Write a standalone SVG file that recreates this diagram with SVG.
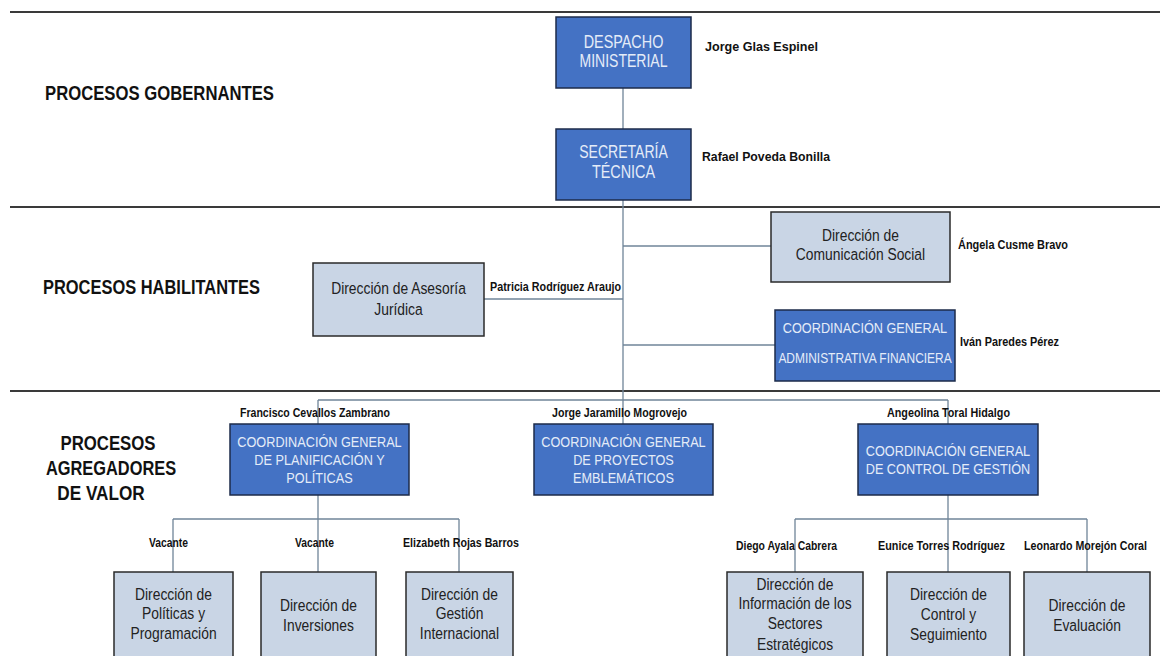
<svg xmlns="http://www.w3.org/2000/svg" width="1167" height="656" viewBox="0 0 1167 656">
<style>
.sec{stroke:#3a3a3a;stroke-width:2;fill:none}
.con{stroke:#6f8498;stroke-width:1.3;fill:none}
.blue{fill:#4472c4;stroke:#1d2b4a;stroke-width:1.5}
.gray{fill:#c9d5e5;stroke:#2a2a2a;stroke-width:1.5}
.bt{font-family:"Liberation Sans",Arial,sans-serif;fill:#e4ecf8;text-anchor:middle;font-size:15.5px}
.bt18{font-size:18px}
.gt{font-family:"Liberation Sans",Arial,sans-serif;fill:#222;text-anchor:middle;font-size:16.5px}
.nm{font-family:"Liberation Sans",Arial,sans-serif;fill:#111;font-weight:bold;font-size:12px}
.hd{font-family:"Liberation Sans",Arial,sans-serif;fill:#111;font-weight:bold;font-size:20px}
</style>
<rect width="1167" height="656" fill="#fff"/>
<g id="sections">
<line class="sec" x1="10" y1="12" x2="1160" y2="12"/>
<line class="sec" x1="10" y1="207" x2="1160" y2="207"/>
<line class="sec" x1="10" y1="391" x2="1160" y2="391"/>
<text class="hd" x="45" y="100" textLength="229" lengthAdjust="spacingAndGlyphs">PROCESOS GOBERNANTES</text>
<text class="hd" x="43" y="294" textLength="217" lengthAdjust="spacingAndGlyphs">PROCESOS HABILITANTES</text>
<text class="hd" text-anchor="middle" transform="translate(108 450) scale(0.84 1)">PROCESOS</text>
<text class="hd" text-anchor="middle" transform="translate(111 475) scale(0.82 1)">AGREGADORES</text>
<text class="hd" text-anchor="middle" transform="translate(101 500) scale(0.86 1)">DE VALOR</text>
</g>
<g id="connectors">
<line class="con" x1="623" y1="88" x2="623" y2="129"/>
<line class="con" x1="623" y1="200" x2="623" y2="400"/>
<line class="con" x1="623" y1="246" x2="771" y2="246"/>
<line class="con" x1="484" y1="299" x2="623" y2="299"/>
<line class="con" x1="623" y1="345" x2="775" y2="345"/>
<line class="con" x1="318" y1="400" x2="948" y2="400"/>
<line class="con" x1="318" y1="400" x2="318" y2="424"/>
<line class="con" x1="623" y1="400" x2="623" y2="424"/>
<line class="con" x1="948" y1="400" x2="948" y2="424"/>
<line class="con" x1="318" y1="495" x2="318" y2="572"/>
<line class="con" x1="173" y1="519" x2="459" y2="519"/>
<line class="con" x1="173" y1="519" x2="173" y2="572"/>
<line class="con" x1="459" y1="519" x2="459" y2="572"/>
<line class="con" x1="948" y1="495" x2="948" y2="572"/>
<line class="con" x1="795" y1="519" x2="1087" y2="519"/>
<line class="con" x1="795" y1="519" x2="795" y2="572"/>
<line class="con" x1="1087" y1="519" x2="1087" y2="572"/>
</g>
<g id="despacho">
<rect class="blue" x="556" y="17" width="135" height="71"/>
<text class="bt bt18" transform="translate(623.5 48) scale(0.8 1)">DESPACHO</text>
<text class="bt bt18" transform="translate(623.5 67) scale(0.78 1)">MINISTERIAL</text>
<text class="nm" x="705" y="51" textLength="113" lengthAdjust="spacingAndGlyphs">Jorge Glas Espinel</text>
</g>
<g id="secretaria">
<rect class="blue" x="556" y="129" width="135" height="71"/>
<text class="bt bt18" transform="translate(623.5 158) scale(0.78 1)">SECRETARÍA</text>
<text class="bt bt18" transform="translate(623.5 178) scale(0.8 1)">TÉCNICA</text>
<text class="nm" x="702" y="161" textLength="128" lengthAdjust="spacingAndGlyphs">Rafael Poveda Bonilla</text>
</g>
<g id="comunicacion">
<rect class="gray" x="771" y="212" width="179" height="70"/>
<text class="gt" transform="translate(860.5 241) scale(0.84 1)">Dirección de</text>
<text class="gt" transform="translate(860.5 260) scale(0.84 1)">Comunicación Social</text>
<text class="nm" x="958" y="249" textLength="110" lengthAdjust="spacingAndGlyphs">Ángela Cusme Bravo</text>
</g>
<g id="juridica">
<rect class="gray" x="313" y="263" width="171" height="73"/>
<text class="gt" transform="translate(398.5 294) scale(0.84 1)">Dirección de Asesoría</text>
<text class="gt" transform="translate(398.5 315) scale(0.84 1)">Jurídica</text>
<text class="nm" x="490" y="291" textLength="131" lengthAdjust="spacingAndGlyphs">Patricia Rodríguez Araujo</text>
</g>
<g id="administrativa">
<rect class="blue" x="775" y="310" width="180" height="71"/>
<text class="bt" transform="translate(865 333) scale(0.82 1)">COORDINACIÓN GENERAL</text>
<text class="bt" transform="translate(865 363) scale(0.77 1)">ADMINISTRATIVA FINANCIERA</text>
<text class="nm" x="960" y="346" textLength="99" lengthAdjust="spacingAndGlyphs">Iván Paredes Pérez</text>
</g>
<g id="planificacion">
<rect class="blue" x="230" y="424" width="179" height="71"/>
<text class="bt" transform="translate(319.5 447) scale(0.82 1)">COORDINACIÓN GENERAL</text>
<text class="bt" transform="translate(319.5 465) scale(0.82 1)">DE PLANIFICACIÓN Y</text>
<text class="bt" transform="translate(319.5 483) scale(0.82 1)">POLÍTICAS</text>
<text class="nm" x="240" y="417" textLength="150" lengthAdjust="spacingAndGlyphs">Francisco Cevallos Zambrano</text>
</g>
<g id="proyectos">
<rect class="blue" x="534" y="424" width="179" height="71"/>
<text class="bt" transform="translate(623.5 447) scale(0.82 1)">COORDINACIÓN GENERAL</text>
<text class="bt" transform="translate(623.5 465) scale(0.82 1)">DE PROYECTOS</text>
<text class="bt" transform="translate(623.5 483) scale(0.82 1)">EMBLEMÁTICOS</text>
<text class="nm" x="552" y="417" textLength="135" lengthAdjust="spacingAndGlyphs">Jorge Jaramillo Mogrovejo</text>
</g>
<g id="control">
<rect class="blue" x="858" y="424" width="180" height="71"/>
<text class="bt" transform="translate(948 456) scale(0.82 1)">COORDINACIÓN GENERAL</text>
<text class="bt" transform="translate(948 474) scale(0.82 1)">DE CONTROL DE GESTIÓN</text>
<text class="nm" x="887" y="417" textLength="123" lengthAdjust="spacingAndGlyphs">Angeolina Toral Hidalgo</text>
</g>
<g id="politicas">
<rect class="gray" x="114" y="572" width="119" height="95"/>
<text class="gt" transform="translate(173.5 600) scale(0.84 1)">Dirección de</text>
<text class="gt" transform="translate(173.5 619) scale(0.84 1)">Políticas y</text>
<text class="gt" transform="translate(173.5 639) scale(0.84 1)">Programación</text>
<text class="nm" x="149" y="547" textLength="39" lengthAdjust="spacingAndGlyphs">Vacante</text>
</g>
<g id="inversiones">
<rect class="gray" x="261" y="572" width="115" height="95"/>
<text class="gt" transform="translate(318.5 611) scale(0.84 1)">Dirección de</text>
<text class="gt" transform="translate(318.5 631) scale(0.84 1)">Inversiones</text>
<text class="nm" x="295" y="547" textLength="39" lengthAdjust="spacingAndGlyphs">Vacante</text>
</g>
<g id="internacional">
<rect class="gray" x="406" y="572" width="107" height="95"/>
<text class="gt" transform="translate(459.5 600) scale(0.84 1)">Dirección de</text>
<text class="gt" transform="translate(459.5 619) scale(0.84 1)">Gestión</text>
<text class="gt" transform="translate(459.5 639) scale(0.84 1)">Internacional</text>
<text class="nm" x="403" y="547" textLength="116" lengthAdjust="spacingAndGlyphs">Elizabeth Rojas Barros</text>
</g>
<g id="informacion">
<rect class="gray" x="727" y="572" width="136" height="95"/>
<text class="gt" transform="translate(795 590) scale(0.84 1)">Dirección de</text>
<text class="gt" transform="translate(795 609) scale(0.84 1)">Información de los</text>
<text class="gt" transform="translate(795 629) scale(0.84 1)">Sectores</text>
<text class="gt" transform="translate(795 650) scale(0.84 1)">Estratégicos</text>
<text class="nm" x="736" y="550" textLength="101" lengthAdjust="spacingAndGlyphs">Diego Ayala Cabrera</text>
</g>
<g id="seguimiento">
<rect class="gray" x="887" y="572" width="123" height="95"/>
<text class="gt" transform="translate(948.5 600) scale(0.84 1)">Dirección de</text>
<text class="gt" transform="translate(948.5 620) scale(0.84 1)">Control y</text>
<text class="gt" transform="translate(948.5 640) scale(0.84 1)">Seguimiento</text>
<text class="nm" x="878" y="550" textLength="127" lengthAdjust="spacingAndGlyphs">Eunice Torres Rodríguez</text>
</g>
<g id="evaluacion">
<rect class="gray" x="1024" y="572" width="126" height="95"/>
<text class="gt" transform="translate(1087 611) scale(0.84 1)">Dirección de</text>
<text class="gt" transform="translate(1087 631) scale(0.84 1)">Evaluación</text>
<text class="nm" x="1024" y="550" textLength="123" lengthAdjust="spacingAndGlyphs">Leonardo Morejón Coral</text>
</g>
</svg>
